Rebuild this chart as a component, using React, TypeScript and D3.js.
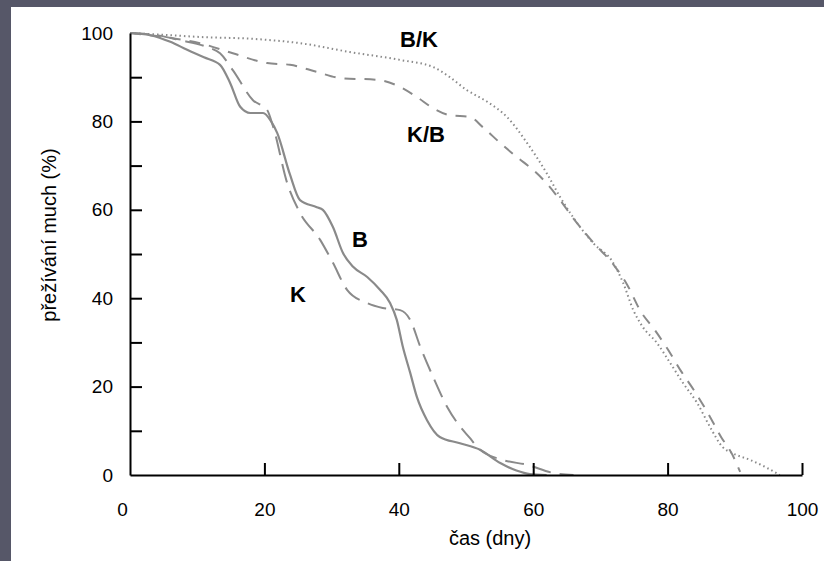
import React, { useEffect, useRef } from "react";
import * as d3 from "d3";

// den (x) a přežívání v % (y) pro každou skupinu
const bDays = [0, 3, 6, 8.5, 11, 13.4, 14.9, 16.4, 17.9, 19.8, 21, 21.9, 23.8, 25.3, 27.8, 28.7, 30.2, 31.7, 33.2, 35.3, 37.2, 38.7, 39.7, 40.6, 41.7, 42.7, 44.2, 46.1, 49.1, 52.1, 55.1, 57.5, 59.5, 62];
const bSurv = [100, 99.5, 98, 96.2, 94.5, 92.8, 88.7, 83.3, 81.9, 81.9, 80, 77.4, 68, 62.2, 60.6, 60, 56.1, 50.2, 47.1, 44.8, 41.9, 38.9, 35.1, 29, 23.1, 17.6, 12.4, 8.6, 7.2, 5.7, 2.7, 1, 0.2, 0];

const kDays = [0, 4, 7.4, 11.5, 13.4, 15.3, 18.3, 20.4, 21.3, 23.4, 25.3, 28.3, 30.2, 32.3, 35.3, 37.6, 40.2, 41.7, 43.2, 45.1, 47.2, 48.7, 50.5, 52.1, 55.5, 59.1, 62.9, 66];
const kSurv = [100, 99.5, 98.4, 96.8, 95.4, 91.6, 84.8, 82.6, 78.8, 66, 59.3, 53.2, 48, 41.9, 38.9, 37.8, 37.3, 35.1, 29, 22.2, 15.4, 11.8, 8.5, 5.7, 3.4, 2.3, 0.5, 0];

const bkDays = [0, 5, 10.4, 18, 25.3, 32.7, 40.2, 45.1, 47.6, 50.1, 53.1, 56.1, 59.1, 62, 64, 65.9, 68.9, 71.9, 73.4, 74.9, 76.3, 78.4, 80.4, 82.3, 84.4, 86.3, 88.2, 89.7, 92.3, 94.8, 96.7];
const bkSurv = [100, 99.6, 99.1, 98.7, 97.7, 95.7, 93.9, 92.3, 90, 87.1, 84.5, 81, 75.1, 68.3, 62.9, 58.4, 52.5, 48, 43.4, 37.3, 33.5, 29.9, 25.3, 20.8, 16.3, 10.9, 6.3, 4.9, 3.4, 1.6, 0];

const kbDays = [0, 3, 6.4, 10.4, 15.3, 20.4, 23.8, 27.8, 31.3, 36.8, 40.2, 42.7, 45.1, 47.6, 50.6, 52.5, 55.1, 57.6, 60, 62, 64, 66, 69, 72, 74, 76, 78, 80, 82, 84, 86, 88, 89.5, 90.8];
const kbSurv = [100, 99.5, 98.8, 97.7, 95.4, 93.2, 92.8, 91.2, 89.8, 89.4, 87.8, 85.5, 83, 81.4, 81, 78.7, 75.1, 71.9, 69, 66, 62.2, 58, 52.5, 47.5, 43, 37, 33, 28.5, 23.5, 19, 14, 8.5, 5, 0.7];

const xTicks = [20, 40, 60, 80, 100];
const yTicks = [0, 10, 20, 30, 40, 50, 60, 70, 80, 90, 100];

export default function App() {
  const ref = useRef<SVGSVGElement>(null);

  useEffect(() => {
    const svg = d3.select(ref.current);
    svg.selectAll("*").remove();
    const font = "'Liberation Sans', Arial, Helvetica, sans-serif";

    svg.append("rect").attr("width", 824).attr("height", 561).attr("fill", "#565768");
    svg.append("rect").attr("x", 11).attr("y", 7).attr("width", 813).attr("height", 554).attr("fill", "#fff");

    const x = d3.scaleLinear().domain([0, 100]).range([130, 802]);
    const y = d3.scaleLinear().domain([0, 100]).range([475, 33]);

    const series = [
      { days: bDays, surv: bSurv, dash: null, width: 2.2 },
      { days: kDays, surv: kSurv, dash: "19,9", width: 2 },
      { days: bkDays, surv: bkSurv, dash: "1.5,3", width: 2 },
      { days: kbDays, surv: kbSurv, dash: "11,9", width: 2 }
    ];

    const line = d3
      .line<[number, number]>()
      .x(d => x(d[0]))
      .y(d => y(d[1]))
      .curve(d3.curveMonotoneX);

    series.forEach(s => {
      const pts = s.days.map((d, i) => [d, s.surv[i]] as [number, number]);
      svg
        .append("path")
        .attr("d", line(pts))
        .attr("fill", "none")
        .attr("stroke", "#8a8a8a")
        .attr("stroke-width", s.width)
        .attr("stroke-dasharray", s.dash);
    });

    // osa x
    const gx = svg
      .append("g")
      .attr("transform", `translate(0,${y(0)})`)
      .call(
        d3.axisBottom(x).tickValues([0, ...xTicks]).tickSize(-12).tickSizeOuter(0).tickPadding(28)
      );
    gx.selectAll(".tick line").attr("display", (d: any) => (d === 0 ? "none" : null));
    gx.selectAll("text").filter((d: any) => d === 0).attr("dx", -8);

    // osa y
    const gy = svg
      .append("g")
      .attr("transform", `translate(${x(0)},0)`)
      .call(
        d3
          .axisLeft(y)
          .tickValues(yTicks)
          .tickSize(-12)
          .tickSizeOuter(0)
          .tickPadding(17)
          .tickFormat((d: any) => (d % 20 === 0 ? String(d) : ""))
      );
    gy.selectAll(".tick line").attr("display", (d: any) => (d === 0 || d === 100 ? "none" : null));

    [gx, gy].forEach(g => {
      g.select(".domain").attr("stroke", "#000").attr("stroke-width", 2);
      g.selectAll(".tick line").attr("stroke", "#000").attr("stroke-width", 2);
      g.selectAll("text").attr("font-family", font).attr("font-size", 19).attr("fill", "#000");
    });

    svg
      .append("text")
      .attr("x", 490)
      .attr("y", 545)
      .attr("text-anchor", "middle")
      .attr("font-family", font)
      .attr("font-size", 20)
      .text("čas (dny)");

    svg
      .append("text")
      .attr("transform", "translate(56,235) rotate(-90)")
      .attr("text-anchor", "middle")
      .attr("font-family", font)
      .attr("font-size", 20)
      .text("přežívání much (%)");

    const labels = [
      { t: "B/K", x: 400, y: 47 },
      { t: "K/B", x: 407, y: 142 },
      { t: "B", x: 352, y: 247 },
      { t: "K", x: 290, y: 302 }
    ];
    svg
      .selectAll("text.lbl")
      .data(labels)
      .enter()
      .append("text")
      .attr("class", "lbl")
      .attr("x", d => d.x)
      .attr("y", d => d.y)
      .attr("font-family", font)
      .attr("font-weight", "bold")
      .attr("font-size", 22)
      .text(d => d.t);
  }, []);

  return (
    <svg
      ref={ref}
      width={824}
      height={561}
      style={{ position: "absolute", left: 0, top: 0 }}
    />
  );
}
